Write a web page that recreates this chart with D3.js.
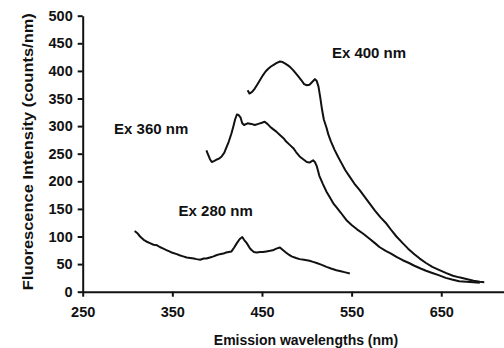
<!DOCTYPE html>
<html>
<head>
<meta charset="utf-8">
<script src="https://cdn.jsdelivr.net/npm/d3@7"></script>
<style>
  body { margin: 0; background: #fff; }
  svg text { font-family: "Liberation Sans", Arial, sans-serif; font-weight: bold; fill: #111; }
</style>
</head>
<body>
<svg id="canvas" width="504" height="348"></svg>
<script>
'use strict';

// emission spectra (wavelength nm, counts/nm)
var ex280Wl = [308,311,314,318,321,325,329,333,336,340,344,348,351,355,358,362,366,370,374,377,
  381,385,388,392,396,399,403,407,410,413,416,419,422,425,428,430,433,436,438,441,444,448,451,
  455,459,462,466,470,473,476,480,483,488,492,497,503,507,511,516,522,527,533,538,543,548];
var ex280Int = [110,106,100,94,91,88,85,84,81,78,75,72,70,68,66,64,62,61,60,59,
  58,60,60,62,64,66,68,69,71,72,73,80,88,95,99,94,88,80,76,72,71,72,72,
  73,74,75,78,80,76,72,67,64,61,59,58,56,54,52,49,45,42,39,37,35,33];

var ex360Wl = [388,390,392,394,397,399,402,405,408,410,413,416,418,420,422,424,426,428,430,434,
  438,442,446,450,453,456,459,462,466,470,474,477,481,485,488,492,496,500,503,507,509,511,514,
  518,522,526,530,533,538,544,550,556,563,570,576,581,588,594,600,607,614,620,627,633,640,647,
  655,662,670,678,686,693];
var ex360Int = [256,248,240,235,237,239,241,245,252,260,272,287,299,312,321,320,316,305,302,305,
  304,302,304,306,308,304,299,295,290,284,278,272,266,260,253,245,240,235,234,238,235,228,210,
  195,181,170,159,153,143,130,121,113,105,96,88,81,74,69,63,57,52,47,42,38,34,30,
  25,22,19,18,17,16];

var ex400Wl = [434,436,439,442,445,448,451,454,457,460,463,466,470,473,476,479,482,485,488,491,
  494,497,500,503,506,509,511,513,515,517,519,522,524,527,531,535,539,543,548,553,559,565,570,
  576,582,589,595,600,607,613,620,626,633,640,648,655,663,670,678,686,693,698];
var ex400Int = [365,359,362,368,376,384,392,399,404,408,411,414,417,416,413,410,406,401,395,389,
  383,376,374,375,380,385,382,372,352,330,312,297,285,272,257,244,232,220,208,196,184,171,160,
  147,135,123,110,100,88,78,68,60,52,45,39,34,29,26,23,20,18,17];

var xTicks = [250, 350, 450, 550, 650];
var yTicks = [0, 50, 100, 150, 200, 250, 300, 350, 400, 450, 500];

var labels = [
  {text: 'Ex 400 nm', wl: 528, val: 423},
  {text: 'Ex 360 nm', wl: 285, val: 286},
  {text: 'Ex 280 nm', wl: 357, val: 137}
];

// margins from the border of the canvas
var margin = {top: 15.7, right: 0, bottom: 56.3, left: 82.7};
var width = 504;
var height = 348;

var svg = d3.select('svg#canvas');

var x = d3.scaleLinear()
  .domain([250, 720])
  .range([margin.left, width - margin.right]);
var y = d3.scaleLinear()
  .domain([0, 500])
  .range([height - margin.bottom, margin.top]);

/* spectra */
var line = d3.line()
  .x(function(d){ return x(d[0]); })
  .y(function(d){ return y(d[1]); });

[[ex280Wl, ex280Int], [ex360Wl, ex360Int], [ex400Wl, ex400Int]].forEach(function(s){
  svg.append('path')
    .datum(d3.zip(s[0], s[1]))
    .attr('d', line)
    .attr('fill', 'none')
    .attr('stroke', '#111')
    .attr('stroke-width', 2)
    .attr('stroke-linejoin', 'round');
});

/* axes */
var gx = svg.append('g')
  .attr('transform', 'translate(0,' + y(0) + ')')
  .call(d3.axisBottom(x).tickValues(xTicks).tickSize(5).tickSizeOuter(0).tickPadding(10));
var gy = svg.append('g')
  .attr('transform', 'translate(' + x(250) + ',0)')
  .call(d3.axisLeft(y).tickValues(yTicks).tickSize(5).tickSizeOuter(0).tickPadding(5));

[gx, gy].forEach(function(g){
  g.select('.domain').attr('stroke', '#111').attr('stroke-width', 2);
  g.selectAll('.tick line').attr('stroke', '#111').attr('stroke-width', 2);
  g.selectAll('.tick text').attr('font-size', 14.5).attr('fill', '#111');
});

/* titles */
svg.append('text')
  .attr('x', 306)
  .attr('y', 345)
  .attr('text-anchor', 'middle')
  .attr('font-size', 14)
  .text('Emission wavelengths (nm)');

svg.append('text')
  .attr('transform', 'translate(33,151.7) rotate(-90)')
  .attr('text-anchor', 'middle')
  .attr('font-size', 15)
  .attr('textLength', 277)
  .attr('lengthAdjust', 'spacingAndGlyphs')
  .text('Fluorescence Intensity (counts/nm)');

/* curve annotations */
svg.selectAll('text.note')
  .data(labels)
  .enter().append('text')
    .attr('class', 'note')
    .attr('x', function(d){ return x(d.wl); })
    .attr('y', function(d){ return y(d.val); })
    .attr('font-size', 15)
    .text(function(d){ return d.text; });
</script>
</body>
</html>
